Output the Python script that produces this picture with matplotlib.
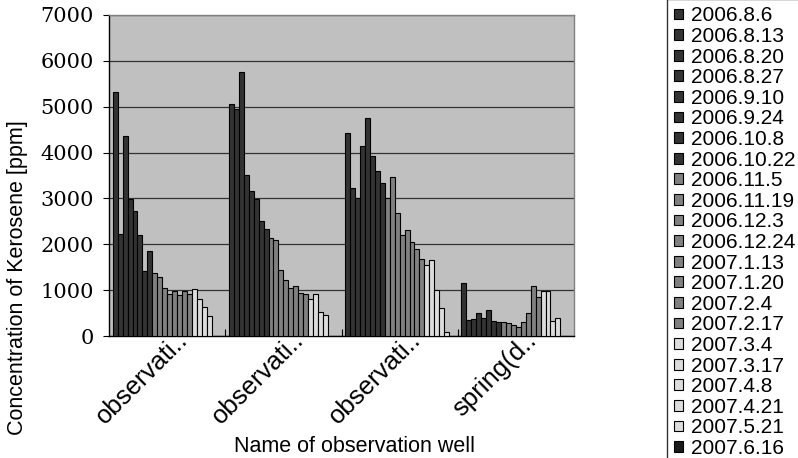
import numpy as np
import matplotlib
matplotlib.use('Agg')
import matplotlib.pyplot as plt
import matplotlib.transforms as mtransforms

plt.rcParams['font.family'] = ['Liberation Sans', 'DejaVu Sans']

# wells on the x axis
wells = ['observati..', 'observati..', 'observati..', 'spring(d..']

# sampling dates (legend)
dates = ['2006.8.6', '2006.8.13', '2006.8.20', '2006.8.27', '2006.9.10',
         '2006.9.24', '2006.10.8', '2006.10.22', '2006.11.5', '2006.11.19',
         '2006.12.3', '2006.12.24', '2007.1.13', '2007.1.20', '2007.2.4',
         '2007.2.17', '2007.3.4', '2007.3.17', '2007.4.8', '2007.4.21',
         '2007.5.21', '2007.6.16']

nan = np.nan
# kerosene concentration [ppm], one value per date for each well
well_1 = [5330, 2220, 4370, 2980, 2730, 2200, 1420, 1860, 1380, 1290,
          1040, 910, 980, 890, 980, 910, 1030, 800, 630, 440, nan, nan]
well_2 = [5060, 4950, 5750, 3510, 3170, 2990, 2500, 2330, 2130, 2100,
          1430, 1220, 1040, 1080, 930, 910, 800, 920, 530, 450, nan, nan]
well_3 = [4430, 3230, 3000, 4140, 4750, 3920, 3600, 3330, 3020, 3470,
          2680, 2210, 2310, 2050, 1900, 1680, 1550, 1650, 1000, 610, 80, nan]
spring = [1150, 350, 380, 500, 390, 560, 330, 310, 310, 290,
          240, 190, 300, 500, 1090, 850, 980, 980, 330, 400, nan, nan]
values = np.array([well_1, well_2, well_3, spring])

# fill of each date series
colors = ['#333333'] * 8 + ['#808080'] * 8 + ['#dcdcdc'] * 5 + ['#1a1a1a']

fig = plt.figure(figsize=(7.98, 4.58), dpi=100)
ax = fig.add_axes([109 / 798, 1 - 336 / 458, 465 / 798, 321 / 458])
ax.set_facecolor('#c0c0c0')

n = len(dates)
x = np.arange(len(wells))
bw = 0.936 / n
handles = []
for i in range(n):
    b = ax.bar(x - 0.468 + (i + 0.5) * bw, values[:, i], width=bw,
               color=colors[i], edgecolor='black', linewidth=0.8, zorder=3)
    handles.append(b)

ax.set_xlim(-0.5, len(wells) - 0.5)
ax.set_ylim(0, 7000)
ax.set_yticks(range(0, 7001, 1000))
ax.yaxis.grid(True, color='#333333', linewidth=0.9, zorder=1)
ax.set_axisbelow(True)

for lab in ax.get_yticklabels():
    lab.set_fontfamily('DejaVu Serif')
ax.tick_params(axis='y', direction='out', length=4, width=0.8, pad=7,
               labelsize=15, colors='black')

ax.set_xticks(x)
ax.set_xticklabels(wells, rotation=45, ha='right', va='center',
                   rotation_mode='anchor', fontsize=18.5)
ax.tick_params(axis='x', length=0, pad=3)
shift = mtransforms.ScaledTranslation(17 / 100, 4 / 100, fig.dpi_scale_trans)
for lab in ax.get_xticklabels():
    lab.set_transform(lab.get_transform() + shift)
ax.set_xticks(x[:-1] + 0.5, minor=True)
ax.tick_params(axis='x', which='minor', direction='in', length=5, width=0.8)

ax.spines['left'].set_color('black')
ax.spines['bottom'].set_color('black')
ax.spines['top'].set_color('#808080')
ax.spines['right'].set_color('#808080')
for s in ax.spines.values():
    s.set_linewidth(1.0)

fig.text(18 / 798, 1 - 278 / 458, 'Concentration of Kerosene [ppm]',
         rotation=90, ha='center', va='center', fontsize=15.5)
fig.text(355 / 798, 1 - 447 / 458, 'Name of observation well',
         ha='center', va='center', fontsize=15.5)

leg = fig.legend(handles, dates, loc='upper left',
                 bbox_to_anchor=(667 / 798, 1.002), borderaxespad=0,
                 fontsize=15, handlelength=0.42, handleheight=0.42,
                 handletextpad=0.4, labelspacing=0.077, borderpad=0.35,
                 frameon=True, fancybox=False, edgecolor='black')
leg.get_frame().set_linewidth(1.0)

fig.savefig('out.png', dpi=100)
